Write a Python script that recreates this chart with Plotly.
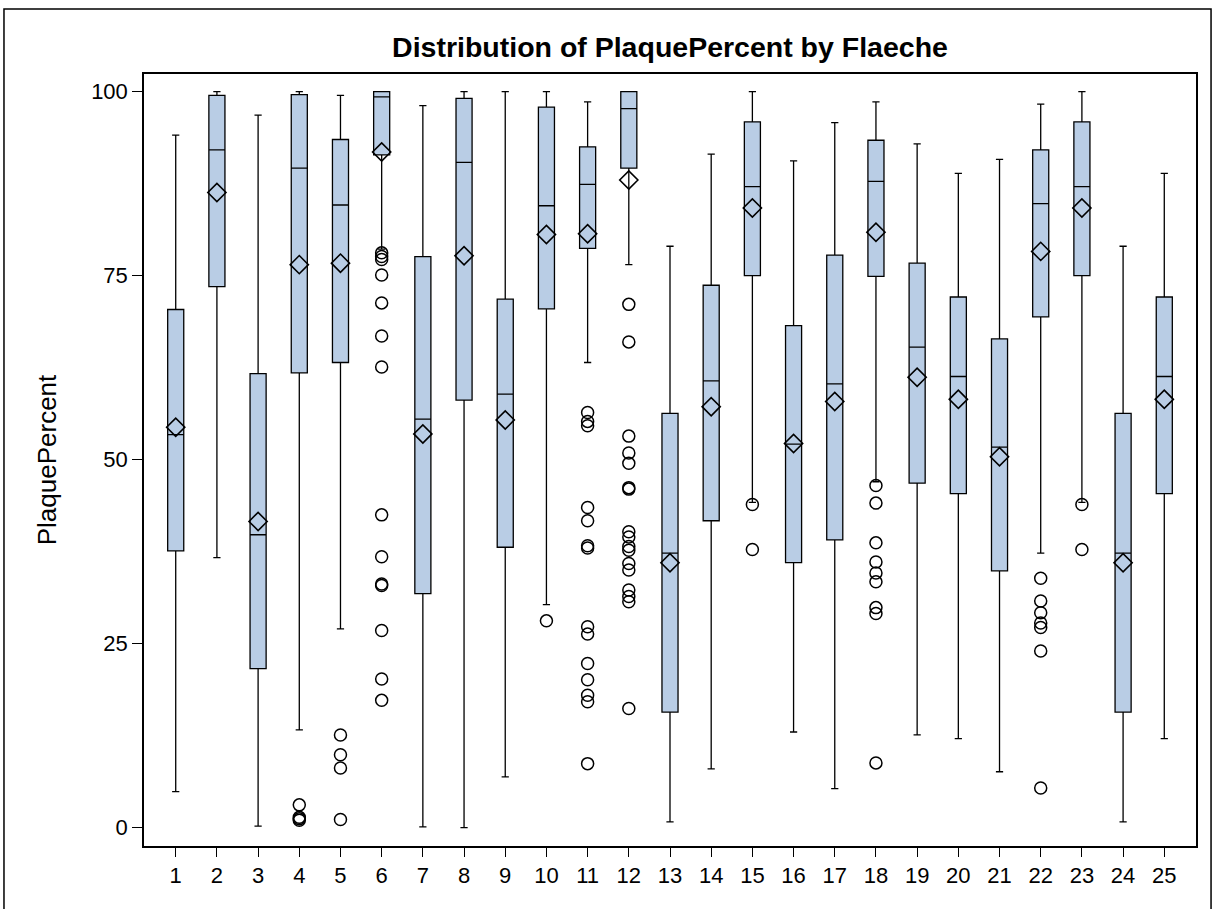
import plotly.graph_objects as go

# Flaeche categories
flaeche = list(range(1, 26))

# Box statistics per Flaeche (PlaquePercent)
q1 = [37.6, 73.5, 21.6, 61.8, 63.2, 91.4, 31.8, 58.1, 38.1, 70.5,
      78.7, 89.6, 15.7, 41.7, 75.0, 36.0, 39.1, 74.9, 46.8, 45.4,
      34.9, 69.4, 75.0, 15.7, 45.4]
median = [53.4, 92.1, 39.8, 89.6, 84.6, 99.3, 55.5, 90.4, 58.9, 84.5,
          87.4, 97.7, 37.3, 60.7, 87.1, 52.1, 60.3, 87.8, 65.3, 61.3,
          51.7, 84.8, 87.1, 37.3, 61.3]
q3 = [70.4, 99.5, 61.7, 99.6, 93.5, 100.0, 77.6, 99.1, 71.8, 97.9,
      92.5, 100.0, 56.3, 73.7, 95.9, 68.2, 77.8, 93.4, 76.7, 72.1,
      66.4, 92.1, 95.9, 56.3, 72.1]
lower_whisker = [4.9, 36.7, 0.2, 13.3, 27.0, 78.6, 0.1, 0.0, 6.9, 30.3,
                 63.2, 76.5, 0.8, 8.0, 44.2, 13.0, 5.3, 47.0, 12.6, 12.1,
                 7.6, 37.3, 44.2, 0.8, 12.1]
upper_whisker = [94.1, 100.0, 96.8, 100.0, 99.5, 100.0, 98.1, 100.0, 100.0, 100.0,
                 98.6, 100.0, 79.0, 91.5, 100.0, 90.6, 95.8, 98.6, 92.9, 88.9,
                 90.8, 98.3, 100.0, 79.0, 88.9]
mean = [54.4, 86.3, 41.6, 76.5, 76.7, 91.8, 53.5, 77.7, 55.4, 80.6,
        80.7, 88.0, 36.0, 57.2, 84.2, 52.2, 57.9, 80.9, 61.2, 58.2,
        50.4, 78.3, 84.2, 36.0, 58.2]

# Outlying observations per Flaeche
outliers = {
    4: [3.1, 1.4, 1.2, 1.0],
    5: [12.6, 9.9, 8.1, 1.1],
    6: [78.1, 77.6, 77.2, 75.1, 71.3, 66.8, 62.6, 42.5, 36.8, 33.1, 32.9,
        26.8, 20.2, 17.3],
    10: [28.1],
    11: [56.4, 55.2, 54.6, 43.5, 41.7, 38.3, 38.0, 27.3, 26.3, 22.3, 20.1,
         18.0, 17.1, 8.7],
    12: [71.1, 66.0, 53.2, 50.9, 49.5, 46.2, 46.0, 40.2, 39.5, 38.2, 37.7,
         35.9, 35.0, 32.3, 31.4, 30.7, 16.2],
    15: [43.9, 37.8],
    18: [46.5, 44.1, 38.7, 36.1, 34.6, 33.4, 29.9, 29.1, 8.8],
    22: [33.9, 30.8, 29.2, 27.8, 27.2, 24.0, 5.4],
    23: [43.9, 37.8],
}

y_ticks = [0, 25, 50, 75, 100]

FONT = "Arial, Liberation Sans, sans-serif"
BOX_FILL = "#B9CDE5"

fig = go.Figure()

fig.add_trace(go.Box(
    x=flaeche,
    q1=q1,
    median=median,
    q3=q3,
    lowerfence=lower_whisker,
    upperfence=upper_whisker,
    width=0.39,
    whiskerwidth=0.45,
    fillcolor=BOX_FILL,
    line=dict(color="black", width=1.3),
    boxpoints=False,
    showlegend=False,
    hoverinfo="skip",
))

out_x, out_y = [], []
for cat, vals in outliers.items():
    out_x += [cat] * len(vals)
    out_y += vals

fig.add_trace(go.Scatter(
    x=out_x, y=out_y, mode="markers",
    marker=dict(symbol="circle-open", size=12, color="black",
                line=dict(width=1.5, color="black")),
    showlegend=False, hoverinfo="skip",
))

fig.add_trace(go.Scatter(
    x=flaeche, y=mean, mode="markers",
    marker=dict(symbol="diamond-open", size=14, color="black",
                line=dict(width=1.6, color="black")),
    showlegend=False, hoverinfo="skip",
))

# Outer frame around the whole graph
fig.add_shape(type="rect", xref="paper", yref="paper",
              x0=-0.1331, x1=1.0143, y0=-0.12, y1=1.0842,
              line=dict(color="black", width=1.5), fillcolor="rgba(0,0,0,0)",
              layer="below")

fig.update_layout(
    width=1214, height=909,
    margin=dict(l=144, r=18, t=74, b=63),
    paper_bgcolor="white",
    plot_bgcolor="white",
    font=dict(family=FONT, color="black"),
    title=dict(text="<b>Distribution of PlaquePercent by Flaeche</b>",
               x=0.5, xref="paper", xanchor="center",
               y=0.9485, yref="container", yanchor="middle",
               font=dict(size=28.5, family=FONT, color="black")),
    xaxis=dict(
        range=[0.23, 25.77],
        tickmode="array", tickvals=flaeche, ticktext=[str(v) for v in flaeche],
        ticks="outside", ticklen=9, tickwidth=1, tickcolor="black",
        tickfont=dict(size=22, family=FONT),
        showgrid=False, zeroline=False,
        showline=True, linecolor="black", linewidth=1.5, mirror=True,
    ),
    yaxis=dict(
        range=[-2.49, 102.4],
        tickmode="array", tickvals=y_ticks,
        ticks="outside", ticklen=10, tickwidth=1, tickcolor="black",
        tickfont=dict(size=22, family=FONT),
        title=dict(text="PlaquePercent", font=dict(size=26, family=FONT),
                   standoff=27),
        showgrid=False, zeroline=False,
        showline=True, linecolor="black", linewidth=1.5, mirror=True,
    ),
)

fig.write_html("out.html")
